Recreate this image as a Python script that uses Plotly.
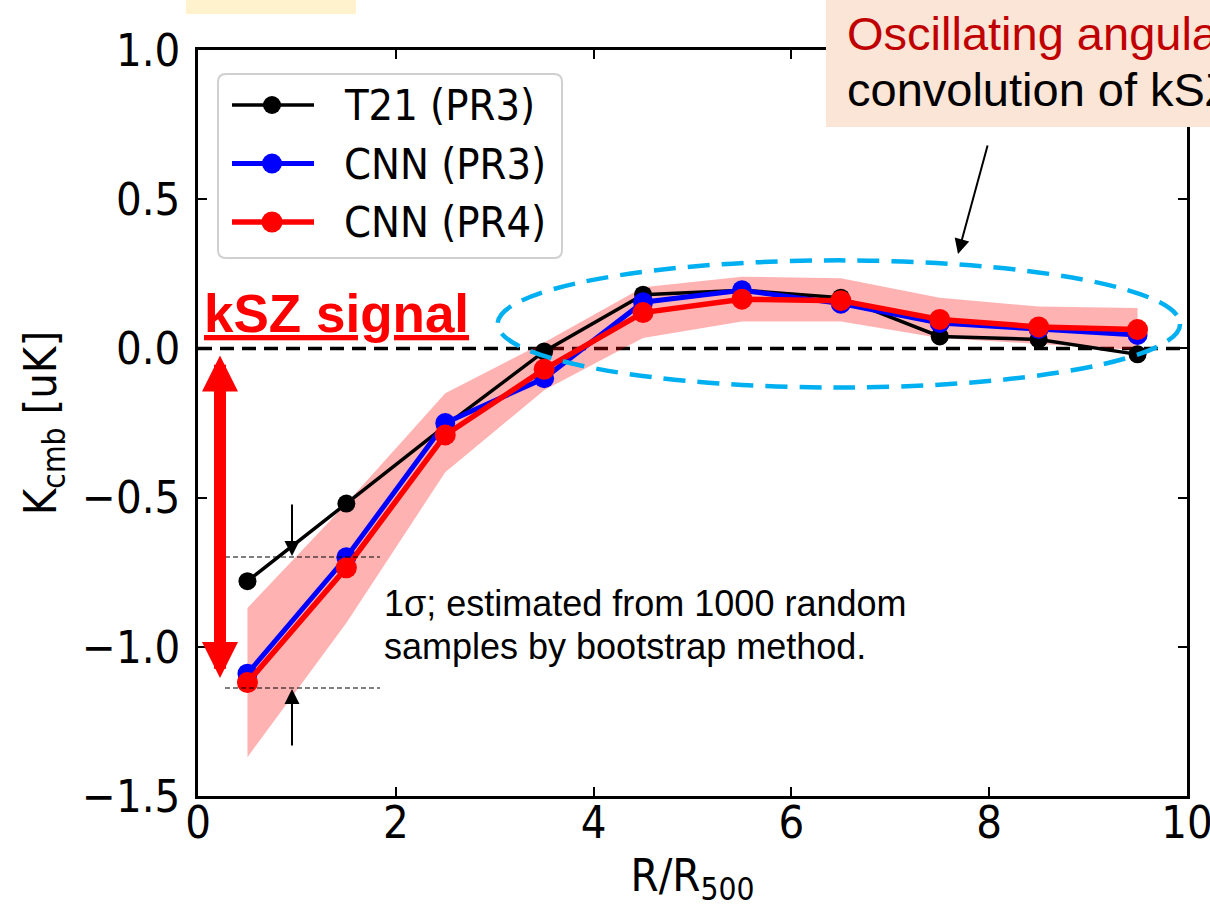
import plotly.graph_objects as go

# Radial bins (R / R500) and stacked kSZ profiles
r_bins = [0.5, 1.5, 2.5, 3.5, 4.5, 5.5, 6.5, 7.5, 8.5, 9.5]
t21_pr3 = [-0.78, -0.52, -0.26, -0.01, 0.18, 0.195, 0.17, 0.04, 0.03, -0.02]
cnn_pr3 = [-1.09, -0.70, -0.25, -0.10, 0.155, 0.195, 0.15, 0.085, 0.065, 0.045]
cnn_pr4 = [-1.12, -0.735, -0.29, -0.07, 0.12, 0.165, 0.16, 0.097, 0.072, 0.063]
# 1-sigma bootstrap band around CNN (PR4)
band_upper = [-0.87, -0.52, -0.15, 0.02, 0.205, 0.24, 0.235, 0.17, 0.14, 0.135]
band_lower = [-1.37, -0.92, -0.415, -0.14, 0.035, 0.09, 0.09, 0.035, 0.015, -0.005]

legend_names = ["T21 (PR3)", "CNN (PR3)", "CNN (PR4)"]
series_colors = ["#000000", "#0000FF", "#FF0000"]

x_tickvals = [0, 2, 4, 6, 8, 10]
x_ticktext = ["0", "2", "4", "6", "8", "10"]
y_tickvals = [1.0, 0.5, 0.0, -0.5, -1.0, -1.5]
y_ticktext = ["1.0", "0.5", "0.0", "\u22120.5", "\u22121.0", "\u22121.5"]

W, H = 1210, 907
PL, PR, PT, PB = 198, 1187, 50, 796
MPL_FONT = "DejaVu Sans Condensed, DejaVu Sans, sans-serif"
PPT_FONT = "Liberation Sans, Arial, sans-serif"


def px(x):
    return (x - PL) / (PR - PL)


def py(y):
    return (PB - y) / (PB - PT)


fig = go.Figure()

# shaded uncertainty band
fig.add_trace(go.Scatter(x=r_bins, y=band_upper, mode="lines", line=dict(width=0),
                         hoverinfo="skip", showlegend=False))
fig.add_trace(go.Scatter(x=r_bins, y=band_lower, mode="lines", line=dict(width=0),
                         fill="tonexty", fillcolor="rgba(255,0,0,0.3)",
                         hoverinfo="skip", showlegend=False))

line_widths = [3.5, 5, 5.5]
marker_sizes = [18, 20, 21]
for name, vals, col, lw, ms in zip(legend_names, [t21_pr3, cnn_pr3, cnn_pr4],
                                   series_colors, line_widths, marker_sizes):
    fig.add_trace(go.Scatter(x=r_bins, y=vals, mode="lines+markers", name=name,
                             line=dict(color=col, width=lw),
                             marker=dict(color=col, size=ms), showlegend=False))

shapes = []
# zero reference line
shapes.append(dict(type="line", xref="paper", yref="y", x0=0, x1=1, y0=0, y1=0,
                   line=dict(color="black", width=3.5, dash="14px,8px"), layer="below"))
# highlight ellipse around the outer bins
shapes.append(dict(type="circle", xref="x", yref="y", x0=3.03, x1=9.93, y0=-0.131, y1=0.295,
                   line=dict(color="#00B0F0", width=4.5, dash="22px,12px"), layer="above"))
# thin dashed guides marking the 1-sigma spread
for yy in [557, 688]:
    shapes.append(dict(type="line", xref="paper", yref="paper", x0=px(225), x1=px(380),
                       y0=py(yy), y1=py(yy),
                       line=dict(color="black", width=1.2, dash="5px,3px"), layer="above"))
# callout boxes
shapes.append(dict(type="rect", xref="paper", yref="paper", x0=px(826), x1=px(1215),
                   y0=py(127), y1=py(-5), fillcolor="#FBE5D6", line=dict(width=0)))
shapes.append(dict(type="rect", xref="paper", yref="paper", x0=px(186), x1=px(356),
                   y0=py(14), y1=py(-5), fillcolor="#FFF2CC", line=dict(width=0)))

# hand-built legend
lx0, lx1, ly0, ly1, rad = 218, 562, 74, 258, 8
shapes.append(dict(type="path", xref="paper", yref="paper",
                   path=(f"M{px(lx0 + rad)},{py(ly0)} L{px(lx1 - rad)},{py(ly0)} "
                         f"Q{px(lx1)},{py(ly0)} {px(lx1)},{py(ly0 + rad)} "
                         f"L{px(lx1)},{py(ly1 - rad)} Q{px(lx1)},{py(ly1)} {px(lx1 - rad)},{py(ly1)} "
                         f"L{px(lx0 + rad)},{py(ly1)} Q{px(lx0)},{py(ly1)} {px(lx0)},{py(ly1 - rad)} "
                         f"L{px(lx0)},{py(ly0 + rad)} Q{px(lx0)},{py(ly0)} {px(lx0 + rad)},{py(ly0)} Z"),
                   fillcolor="rgba(255,255,255,0.8)", line=dict(color="#d0d0d0", width=2),
                   layer="above"))
annotations = []
for i, (name, col, lw, ms) in enumerate(zip(legend_names, series_colors, line_widths, marker_sizes)):
    yy = 105 + 58.5 * i
    shapes.append(dict(type="line", xref="paper", yref="paper", x0=px(232), x1=px(314),
                       y0=py(yy), y1=py(yy), line=dict(color=col, width=lw), layer="above"))
    rr = ms / 2
    shapes.append(dict(type="circle", xref="paper", yref="paper",
                       x0=px(272 - rr), x1=px(272 + rr), y0=py(yy + rr), y1=py(yy - rr),
                       fillcolor=col, line=dict(color=col, width=0), layer="above"))
    annotations.append(dict(xref="paper", yref="paper", x=px(342), y=py(yy), text=name,
                            showarrow=False, xanchor="left", yanchor="middle",
                            font=dict(family=MPL_FONT, size=43, color="black")))

# text callouts
annotations.append(dict(xref="paper", yref="paper", x=px(845), y=py(33),
                        text="Oscillating angular", showarrow=False, xanchor="left",
                        yanchor="middle", font=dict(family=PPT_FONT, size=47, color="#C00000")))
annotations.append(dict(xref="paper", yref="paper", x=px(845), y=py(89),
                        text="convolution of kSZ", showarrow=False, xanchor="left",
                        yanchor="middle", font=dict(family=PPT_FONT, size=47, color="black")))
annotations.append(dict(xref="paper", yref="paper", x=px(336), y=py(313),
                        text="<b>kSZ signal</b>", showarrow=False, xanchor="center",
                        yanchor="middle",
                        font=dict(family=PPT_FONT, size=53, color="#FF0000", lineposition="under")))
annotations.append(dict(xref="paper", yref="paper", x=px(382), y=py(603),
                        text="1\u03c3; estimated from 1000 random", showarrow=False,
                        xanchor="left", yanchor="middle",
                        font=dict(family=PPT_FONT, size=36, color="black")))
annotations.append(dict(xref="paper", yref="paper", x=px(382), y=py(646),
                        text="samples by bootstrap method.", showarrow=False,
                        xanchor="left", yanchor="middle",
                        font=dict(family=PPT_FONT, size=36, color="black")))

# arrows
annotations.append(dict(xref="paper", yref="paper", x=px(958), y=py(254), ax=30, ay=-110,
                        text="", showarrow=True, arrowhead=2, arrowsize=1.5, arrowwidth=2,
                        arrowcolor="black", standoff=0))
annotations.append(dict(xref="paper", yref="paper", x=px(292), y=py(556), ax=0, ay=-53,
                        text="", showarrow=True, arrowhead=2, arrowsize=1.5, arrowwidth=2,
                        arrowcolor="black", standoff=0))
annotations.append(dict(xref="paper", yref="paper", x=px(292), y=py(689), ax=0, ay=58,
                        text="", showarrow=True, arrowhead=2, arrowsize=1.5, arrowwidth=2,
                        arrowcolor="black", standoff=0))
annotations.append(dict(xref="paper", yref="paper", x=px(220), y=py(678), ax=0, ay=-324,
                        text="", showarrow=True, arrowhead=2, arrowsize=0.6, arrowwidth=12,
                        arrowside="end+start", startarrowhead=2, startarrowsize=0.6,
                        arrowcolor="#FF0000", standoff=0, startstandoff=0))

axis_common = dict(showline=True, linecolor="black", linewidth=2.5, mirror="ticks",
                   ticks="inside", ticklen=9, tickwidth=2, tickcolor="black",
                   showgrid=False, zeroline=False, automargin=False,
                   ticklabeloverflow="allow",
                   tickfont=dict(family=MPL_FONT, size=45, color="black"))

fig.update_layout(
    width=W, height=H,
    margin=dict(l=PL, r=W - PR, t=PT, b=H - PB),
    paper_bgcolor="white", plot_bgcolor="white",
    showlegend=False,
    shapes=shapes, annotations=annotations,
    xaxis=dict(range=[0, 10], tickvals=x_tickvals, ticktext=x_ticktext,
               ticklabelstandoff=-15,
               title=dict(text="R/R<sub>500</sub>", standoff=13,
                          font=dict(family=MPL_FONT, size=45, color="black")),
               **axis_common),
    yaxis=dict(range=[-1.5, 1.0], tickvals=y_tickvals, ticktext=y_ticktext,
               ticklabelstandoff=6,
               title=dict(text="K<sub>cmb</sub> [uK]", standoff=12,
                          font=dict(family=MPL_FONT, size=45, color="black")),
               **axis_common),
)

fig.write_html("out.html")
